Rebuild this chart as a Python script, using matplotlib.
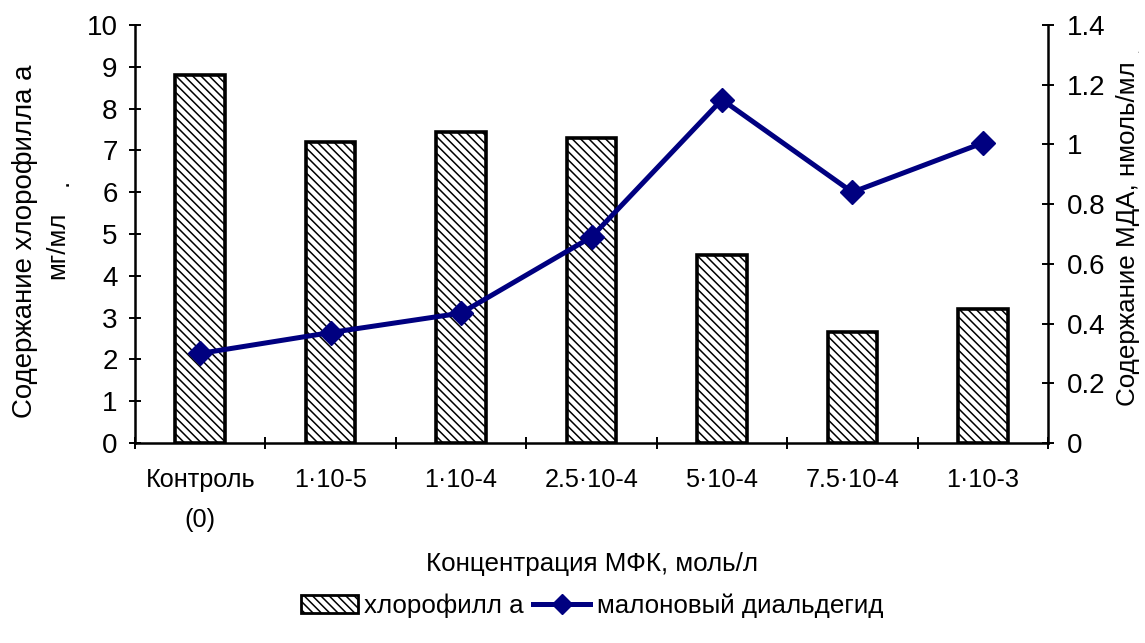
import matplotlib
matplotlib.use("Agg")
import matplotlib.pyplot as plt
from matplotlib.lines import Line2D
from matplotlib.patches import Patch
from matplotlib.transforms import Bbox
from matplotlib.ticker import FixedLocator, NullFormatter, FixedFormatter

plt.rcParams['font.family'] = ['Liberation Sans', 'DejaVu Sans']
plt.rcParams['hatch.linewidth'] = 1.1
plt.rcParams['hatch.color'] = '#1a1a1a'

# Data
categories = ["Контроль\n(0)", "1·10-5", "1·10-4", "2.5·10-4", "5·10-4", "7.5·10-4", "1·10-3"]
chlorophyll_a = [8.8, 7.2, 7.45, 7.3, 4.5, 2.65, 3.2]
mda = [0.30, 0.37, 0.435, 0.69, 1.15, 0.84, 1.005]
left_ticks = list(range(0, 11))
right_ticks = [0, 0.2, 0.4, 0.6, 0.8, 1.0, 1.2, 1.4]
right_tick_labels = ["0", "0.2", "0.4", "0.6", "0.8", "1", "1.2", "1.4"]

W, H = 1145, 643
FS = 18.7        # titles and legend
FS_LT = 19.9     # left axis title
FS_X = 18.2      # category labels
FS_Y = 20.0      # value axis labels
NAVY = '#000080'
HATCH = '\\\\\\\\'

fig = plt.figure(figsize=(W / 100, H / 100), dpi=100)
ax = fig.add_axes([135 / W, 1 - 443 / H, (1048 - 135) / W, (443 - 25) / H])
ax2 = ax.twinx()

def px(x, y):
    return x / W, 1 - y / H

xs = [i + 0.5 for i in range(len(categories))]

ax.bar(xs, chlorophyll_a, width=0.38, facecolor='white', edgecolor='black',
       linewidth=2.6, hatch=HATCH, zorder=2)
ax2.plot(xs, mda, color=NAVY, linewidth=3.6, marker='D', markersize=12.5,
         markerfacecolor=NAVY, markeredgecolor=NAVY, zorder=3)

ax.set_xlim(0, len(categories))
ax.set_ylim(0, 10)
ax2.set_ylim(0, 1.4)

ax.set_yticks(left_ticks)
ax.set_yticklabels([str(v) for v in left_ticks])
ax2.set_yticks(right_ticks)
ax2.set_yticklabels(right_tick_labels)

# Category boundaries as major ticks, category names on minor ticks
ax.xaxis.set_major_locator(FixedLocator(list(range(len(categories) + 1))))
ax.xaxis.set_major_formatter(NullFormatter())
ax.xaxis.set_minor_locator(FixedLocator(xs))
ax.xaxis.set_minor_formatter(FixedFormatter(categories))
ax.tick_params(axis='x', which='major', direction='inout', length=9, width=1.4)
ax.tick_params(axis='x', which='minor', length=0, pad=18, labelsize=FS_X)
for lab in ax.xaxis.get_minorticklabels():
    lab.set_linespacing(1.85)
    lab.set_verticalalignment('top')

ax.tick_params(axis='y', direction='inout', length=9, width=1.4, pad=8, labelsize=FS_Y)
ax2.tick_params(axis='y', direction='inout', length=9, width=1.4, pad=9, labelsize=FS_Y)

for a in (ax, ax2):
    a.spines['top'].set_visible(False)
    for s in ('left', 'right', 'bottom'):
        a.spines[s].set_linewidth(1.8)
ax2.spines['left'].set_visible(False)
ax2.spines['bottom'].set_visible(False)
ax.spines['right'].set_visible(False)

# Axis titles
t1 = fig.text(*px(25, 418), "Содержание хлорофилла а", rotation=90,
              ha='center', va='bottom', fontsize=FS_LT)
t1.set_clip_box(Bbox.from_extents(0, 0, 200, H - 64))
t1.set_clip_on(True)
fig.text(*px(57, 245), "мг/мл", rotation=90, ha='center', va='center', fontsize=FS)
fig.text(*px(61, 182), ".", rotation=90, ha='center', va='center', fontsize=FS)

fig.text(*px(1128, 234), "Содержание МДА, нмоль/мл", rotation=90,
         ha='center', va='center', fontsize=FS)
fig.text(*px(1136, 50), ".", rotation=90, ha='center', va='center',
         fontsize=9, color='#999999')

fig.text(*px(592, 564), "Концентрация МФК, моль/л", ha='center', va='center', fontsize=FS)

handles = [
    Patch(facecolor='white', edgecolor='black', linewidth=2.0, hatch=HATCH),
    Line2D([0], [0], color=NAVY, linewidth=3.6, marker='D', markersize=10,
           markerfacecolor=NAVY, markeredgecolor=NAVY),
]
fig.legend(handles, ["хлорофилл а", "малоновый диальдегид"], loc='center',
           bbox_to_anchor=px(592, 606), ncol=2, frameon=False, fontsize=FS,
           handlelength=2.2, handleheight=0.65, handletextpad=0.25,
           columnspacing=0.35, borderpad=0, borderaxespad=0)

fig.savefig("out.png", dpi=100)
